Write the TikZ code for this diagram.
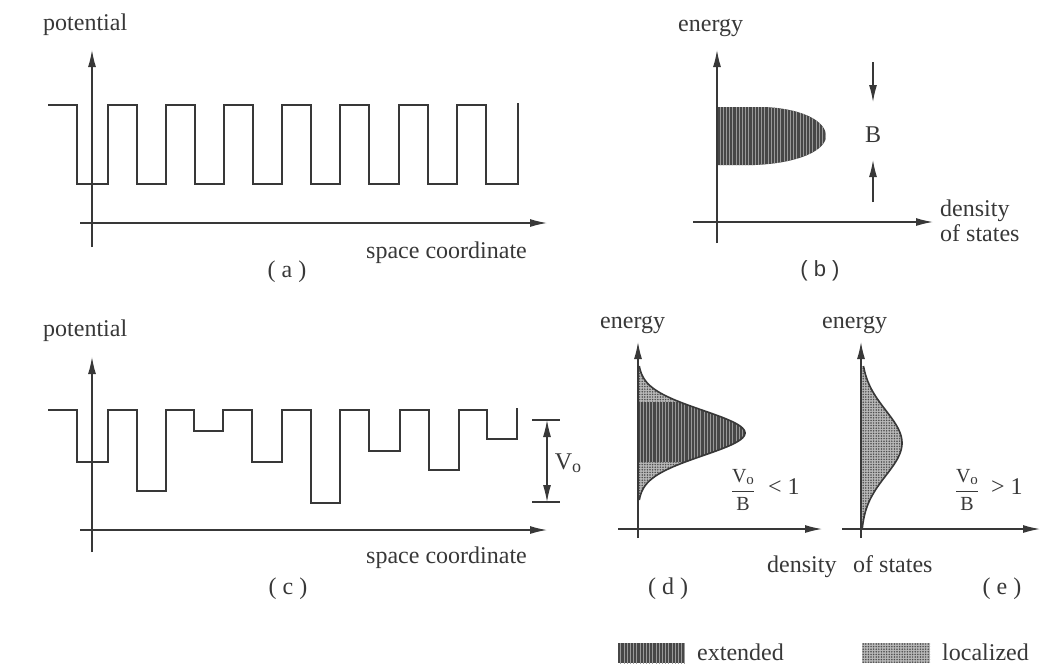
\documentclass[tikz,border=0pt]{standalone}
\usepackage{fontspec}
\setmainfont{Liberation Serif}
\newfontfamily\helv{Liberation Sans}
\usetikzlibrary{arrows.meta,patterns.meta}
\definecolor{ink}{gray}{0.22}
\definecolor{extdark}{gray}{0.28}
\definecolor{extlight}{gray}{0.60}
\definecolor{locbg}{gray}{0.72}
\definecolor{locdot}{gray}{0.30}
\newcommand{\vob}{$\displaystyle\frac{\mbox{V\raisebox{-0.2ex}{\fontsize{15}{16}\selectfont o}}}{\mbox{B}}$}
\begin{document}
\begin{tikzpicture}[x=1pt,y=-1pt,
  ax/.style={draw=ink, line width=1.3pt},
  tip/.tip={Latex[length=17pt,width=8pt]},
  axarrow/.style={ax, -tip},
  wave/.style={draw=ink, line width=2.2pt, line join=miter},
  lbl/.style={font=\fontsize{24}{27}\selectfont, text=ink, inner sep=0pt},
  small/.style={font=\fontsize{20}{21}\selectfont, text=ink, inner sep=0pt},
  extfill/.style={fill=extdark, postaction={pattern={Lines[angle=90,distance=3.2pt,line width=1pt]}, pattern color=extlight}},
  locfill/.style={fill=locbg, postaction={pattern={Dots[distance=2.6pt,radius=0.85pt]}, pattern color=locdot}},
  outline/.style={draw=ink, line width=1.6pt}]
\useasboundingbox (0,0) rectangle (1047,670);
\fill[white] (0,0) rectangle (1047,670);

% ---------------- panel (a)
\coordinate (ay0) at (92,247); \coordinate (ay1) at (92,50);
\coordinate (ax0) at (80,223); \coordinate (ax1) at (547,223);
\draw[axarrow] (ay0) -- (ay1);
\draw[axarrow] (ax0) -- (ax1);
\draw[wave] (48,105) -- (77,105) -- (77,184) -- (108,184) -- (108,105) -- (137,105) -- (137,184)
  -- (166,184) -- (166,105) -- (195,105) -- (195,184) -- (224,184) -- (224,105) -- (253,105)
  -- (253,184) -- (282,184) -- (282,105) -- (311,105) -- (311,184) -- (340,184) -- (340,105)
  -- (369,105) -- (369,184) -- (399,184) -- (399,105) -- (428,105) -- (428,184) -- (457,184)
  -- (457,105) -- (486,105) -- (486,184) -- (518,184) -- (518,103);
\node[lbl, anchor=base west] (apot) at (43,30) {potential};
\node[lbl, anchor=base east] (aspace) at (527,258) {space coordinate};
\node[lbl, anchor=base] (acap) at (287,277) {( a )};

% ---------------- panel (b)
\coordinate (by0) at (717,243); \coordinate (by1) at (717,50);
\coordinate (bx0) at (693,222); \coordinate (bx1) at (933,222);
\path[extfill] (717,107) -- (765,107) .. controls (805,109) and (826,122) .. (826,136)
  .. controls (826,150) and (800,163) .. (755,165) -- (717,165) -- cycle;
\draw[axarrow] (by0) -- (by1);
\draw[axarrow] (bx0) -- (bx1);
\coordinate (bd0) at (873,62); \coordinate (bd1) at (873,102);
\coordinate (bu0) at (873,202); \coordinate (bu1) at (873,160);
\draw[axarrow] (bd0) -- (bd1);
\draw[axarrow] (bu0) -- (bu1);
\node[lbl] (bB) at (873,135) {B};
\node[lbl, anchor=base west] (bene) at (678,31) {energy};
\node[lbl, anchor=base west] (bdens) at (940,216) {density};
\node[lbl, anchor=base west] (bstat) at (940,241) {of states};
\node[lbl, font=\fontsize{22}{24}\selectfont\helv] (bcap) at (820,271) {( b )};

% ---------------- panel (c)
\coordinate (cy0) at (92,552); \coordinate (cy1) at (92,357);
\coordinate (cx0) at (80,530); \coordinate (cx1) at (547,530);
\draw[axarrow] (cy0) -- (cy1);
\draw[axarrow] (cx0) -- (cx1);
\draw[wave] (48,410) -- (77,410) -- (77,462) -- (108,462) -- (108,410) -- (137,410) -- (137,491)
  -- (166,491) -- (166,410) -- (194,410) -- (194,431) -- (223,431) -- (223,410) -- (252,410)
  -- (252,462) -- (282,462) -- (282,410) -- (311,410) -- (311,503) -- (340,503) -- (340,410)
  -- (369,410) -- (369,451) -- (400,451) -- (400,410) -- (429,410) -- (429,470) -- (459,470)
  -- (459,410) -- (487,410) -- (487,439) -- (517,439) -- (517,408);
\coordinate (vt0) at (532,420); \coordinate (vt1) at (560,420);
\coordinate (vb0) at (532,502); \coordinate (vb1) at (560,502);
\coordinate (vat) at (547,420); \coordinate (vab) at (547,502);
\draw[ax, line width=1.1pt] (vt0) -- (vt1);
\draw[ax, line width=1.1pt] (vb0) -- (vb1);
\draw[ax, line width=1.1pt, tip-tip] (vat) -- (vab);
\node[lbl] (vlab) at (568,463) {V\raisebox{-0.3ex}{\fontsize{18}{19}\selectfont o}};
\node[lbl, anchor=base west] (cpot) at (43,336) {potential};
\node[lbl, anchor=base east] (cspace) at (527,563) {space coordinate};
\node[lbl] (ccap) at (288,589) {( c )};

% ---------------- panel (d)
\path[locfill] (638,366) -- plot[domain=366:500, samples=90, variable=\t] ({638+107*exp(-((\t-433)/32)^2)}, \t) -- (638,500) -- cycle;
\path[extfill] (638,402) -- plot[domain=402:462, samples=50, variable=\t] ({638+107*exp(-((\t-433)/32)^2)}, \t) -- (638,462) -- cycle;
\draw[outline] plot[domain=366:500, samples=90, variable=\t] ({638+107*exp(-((\t-433)/32)^2)}, \t);
\coordinate (dy0) at (638,538); \coordinate (dy1) at (638,342);
\coordinate (dx0) at (618,529); \coordinate (dx1) at (822,529);
\draw[axarrow] (dy0) -- (dy1);
\draw[axarrow] (dx0) -- (dx1);
\node[lbl, anchor=base west] (dene) at (600,328) {energy};
\node[small] (dfrac) at (743,490) {\vob};
\node[lbl, anchor=west] (dlt) at (768,487) {< 1};
\node[lbl] (dcap) at (668,589) {( d )};

% ---------------- panel (e)
\path[locfill] (861,366) -- plot[domain=366:528, samples=90, variable=\t] ({861+41*exp(-((\t-443)/46)^2)}, \t) -- (861,528) -- cycle;
\draw[outline] plot[domain=366:528, samples=90, variable=\t] ({861+41*exp(-((\t-443)/46)^2)}, \t);
\coordinate (ey0) at (861,538); \coordinate (ey1) at (861,342);
\coordinate (ex0) at (842,529); \coordinate (ex1) at (1040,529);
\draw[axarrow] (ey0) -- (ey1);
\draw[axarrow] (ex0) -- (ex1);
\node[lbl, anchor=base west] (eene) at (822,328) {energy};
\node[small] (efrac) at (967,490) {\vob};
\node[lbl, anchor=west] (egt) at (991,487) {> 1};
\node[lbl] (ecap) at (1002,589) {( e )};

\node[lbl, anchor=base west] (ddens) at (767,572) {density};
\node[lbl, anchor=base west] (dstat) at (853,572) {of states};

% ---------------- legend
\path[extfill] (618,643) rectangle (685,663);
\node[lbl, anchor=base west] (lext) at (697,660) {extended};
\path[locfill] (862,643) rectangle (930,663);
\node[lbl, anchor=base west] (lloc) at (942,660) {localized};
\end{tikzpicture}
\end{document}
